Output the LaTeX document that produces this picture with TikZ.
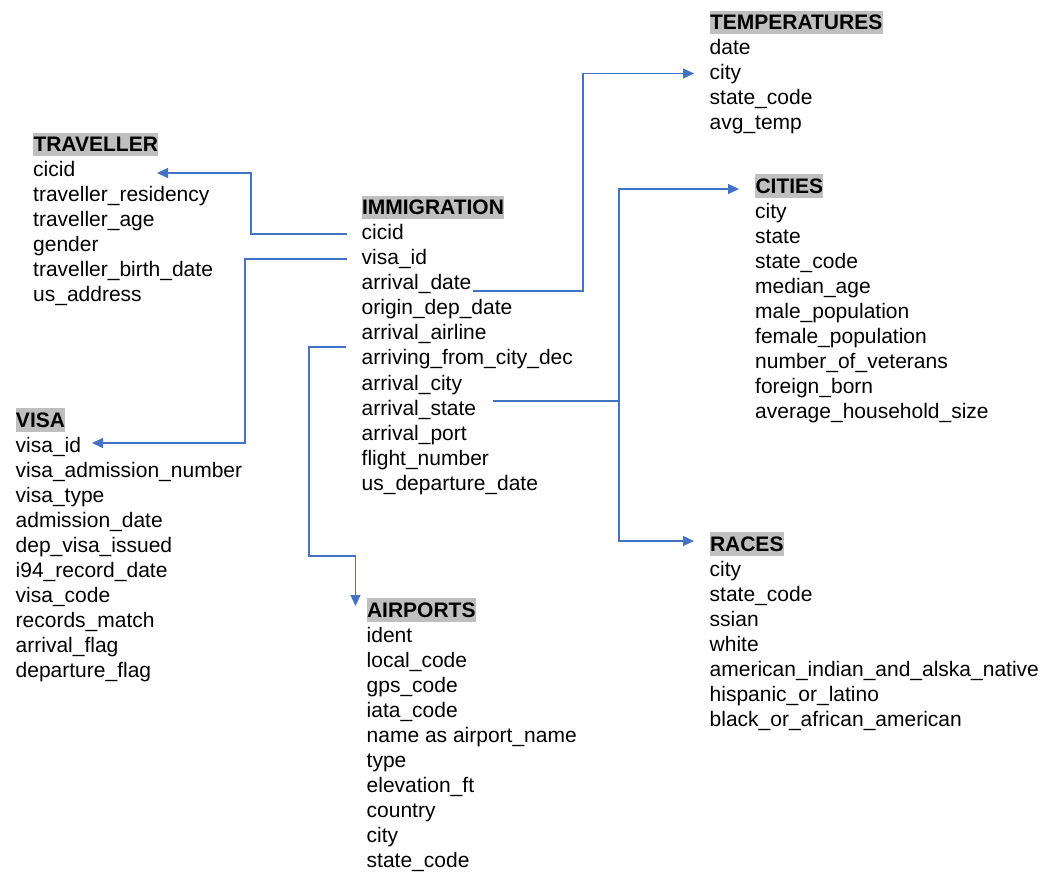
\documentclass[tikz,border=0pt]{standalone}
\usepackage{fontspec}
\setmainfont{Liberation Sans}
\usetikzlibrary{arrows.meta}
\definecolor{linkblue}{HTML}{4472C4}
\definecolor{hdrgray}{HTML}{BFBFBF}
\newcommand\mytable[5]{%
  \node[header] (#1) at (#2,#3) {#4};
  \foreach \f [count=\i] in {#5} {\node[field] (#1-\i) at (#2,#3+25*\i) {\f};}
}
\begin{document}
\begin{tikzpicture}[x=1pt,y=-1pt,
  field/.style={anchor=base west,inner sep=0pt,font=\fontsize{21}{25}\selectfont},
  header/.style={anchor=base west,inner xsep=0.3pt,inner ysep=0pt,fill=hdrgray,
    text height=19pt,text depth=4.5pt,font=\fontsize{21}{25}\selectfont\bfseries},
  link/.style={draw=linkblue,line width=1.1pt},
  arr/.style={link,-{Triangle[length=11pt,width=10pt]}}]
\useasboundingbox (0,0) rectangle (1050,885);

\mytable{temp}{709.5}{30}{TEMPERATURES}{date,city,state\_code,avg\_temp}
\mytable{trav}{33}{152}{TRAVELLER}{cicid,traveller\_residency,traveller\_age,gender,traveller\_birth\_date,us\_address}
\mytable{imm}{361.5}{215}{IMMIGRATION}{cicid,visa\_id,arrival\_date,origin\_dep\_date,arrival\_airline,arriving\_from\_city\_dec,arrival\_city,arrival\_state,arrival\_port,flight\_number,us\_departure\_date}
\mytable{cities}{755}{193.5}{CITIES}{city,state,state\_code,median\_age,male\_population,female\_population,number\_of\_veterans,foreign\_born,average\_household\_size}
\mytable{visa}{15.5}{427}{VISA}{visa\_id,visa\_admission\_number,visa\_type,admission\_date,dep\_visa\_issued,i94\_record\_date,visa\_code,records\_match,arrival\_flag,departure\_flag}
\mytable{air}{366.5}{617}{AIRPORTS}{ident,local\_code,gps\_code,iata\_code,name as airport\_name,type,elevation\_ft,country,city,state\_code}
\mytable{races}{709.5}{551}{RACES}{city,state\_code,ssian,white,american\_indian\_and\_alska\_native,hispanic\_or\_latino,black\_or\_african\_american}

% connector end points
\coordinate (travS) at (347,234);   \coordinate (travE) at (157,173);
\coordinate (visaS) at (347,259);   \coordinate (visaE) at (92,443);
\coordinate (tempS) at (473,291);   \coordinate (tempE) at (694,73.5);
\coordinate (cityS) at (493,401);   \coordinate (cityJ) at (619,401);
\coordinate (citiesE) at (739,189); \coordinate (racesE) at (694,541);
\coordinate (airS) at (346,347);    \coordinate (airE) at (355.5,606);

\draw[arr] (travS) -| (251,173) -- (travE);
\draw[arr] (visaS) -| (245,443) -- (visaE);
\draw[arr] (tempS) -| (583,73.5) -- (tempE);
\draw[link] (cityS) -- (cityJ);
\draw[arr] (cityJ) |- (citiesE);
\draw[arr] (cityJ) |- (racesE);
\draw[arr] (airS) -| (309,556) -| (airE);
\end{tikzpicture}
\end{document}
